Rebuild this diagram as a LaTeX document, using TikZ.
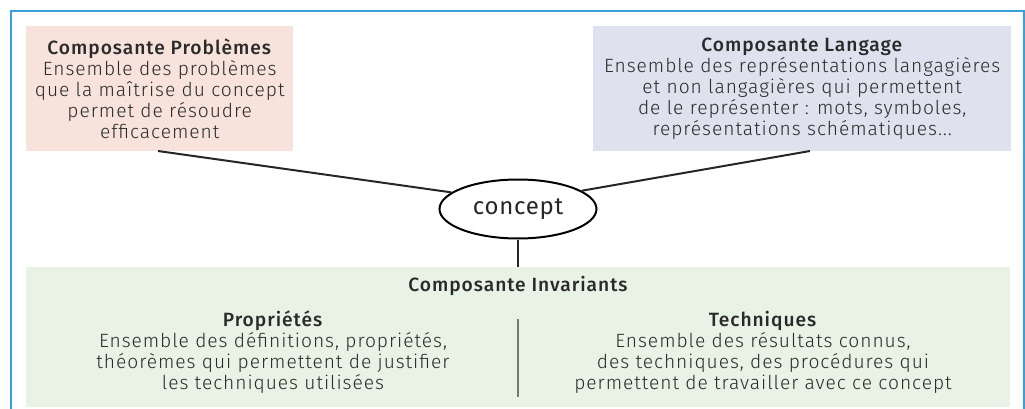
\documentclass[tikz,border=0pt]{standalone}
\usepackage{fontspec}
\setmainfont{Fira Sans Light}[BoldFont={Fira Sans Medium}, LetterSpace=5]
\newfontfamily\conceptfont{Fira Sans}[LetterSpace=3]
\usetikzlibrary{shapes.geometric}
\definecolor{pinkbg}{HTML}{F8E3DC}
\definecolor{bluebg}{HTML}{DFE1EE}
\definecolor{greenbg}{HTML}{E8F2E5}
\definecolor{framec}{HTML}{3AA0DA}
\definecolor{txt}{HTML}{2A2A2A}
\definecolor{divc}{HTML}{777777}
\tikzset{
  panel/.style={anchor=north west, inner sep=0pt, align=center, text=txt,
    font=\fontsize{19.2}{21.2}\selectfont},
  body/.style={inner sep=0pt, align=center, text=txt, font=\fontsize{19.2}{21}\selectfont},
  link/.style={line width=2pt, black!85},
}
\begin{document}
\begin{tikzpicture}[x=1pt,y=-1pt]
\useasboundingbox (0,0) rectangle (1025,409);
\draw[framec, line width=1.5pt] (11,409) -- (11,11) -- (1024,11) -- (1024,409);
\node[panel, fill=pinkbg, minimum width=267pt, minimum height=125pt] (prob) at (26,26)
  {\textbf{Composante Problèmes}\\Ensemble des problèmes\\que la maîtrise du concept\\permet de résoudre\\efficacement};
\node[panel, fill=bluebg, minimum width=418pt, minimum height=125pt] (lang) at (593,26)
  {\textbf{Composante Langage}\\Ensemble des représentations langagières\\et non langagières qui permettent\\de le représenter : mots, symboles,\\représentations schématiques...};
\node[panel, fill=greenbg, minimum width=984pt, minimum height=140pt] (inv) at (26,267) {};
\node[draw, line width=2pt, ellipse, minimum width=157pt, minimum height=59pt, inner sep=0pt,
  font=\conceptfont\fontsize{24}{26}\selectfont, text=black!85] (concept) at (518,209) {concept};
\coordinate (pl) at (158,151);
\coordinate (ll) at (810,151);
\draw[link] (pl) -- (concept.166);
\draw[link] (ll) -- (concept.16);
\draw[link] (concept.south) -- (concept.south |- inv.north);
\node[body, font=\fontsize{19.2}{21}\selectfont\bfseries] (invt) at (518,286) {Composante Invariants};
\node[body] (prop) at (273,352) {\textbf{Propriétés}\\Ensemble des définitions, propriétés,\\théorèmes qui permettent de justifier\\les techniques utilisées};
\node[body] (tech) at (763,352) {\textbf{Techniques}\\Ensemble des résultats connus,\\des techniques, des procédures qui\\permettent de travailler avec ce concept};
\coordinate (d1) at (518,319);
\coordinate (d2) at (518,397);
\draw[divc, line width=1.5pt] (d1) -- (d2);
\end{tikzpicture}
\end{document}
